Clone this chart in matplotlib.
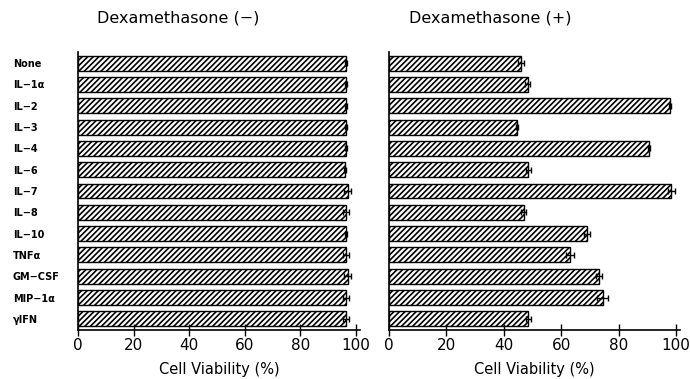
import matplotlib
matplotlib.use("Agg")
import matplotlib.pyplot as plt
import numpy as np

plt.rcParams['hatch.linewidth'] = 1.2

categories = ["None", "IL\u22121\u03b1", "IL\u22122", "IL\u22123", "IL\u22124", "IL\u22126",
              "IL\u22127", "IL\u22128", "IL\u221210", "TNF\u03b1", "GM\u2212CSF",
              "MIP\u22121\u03b1", "\u03b3IFN"]
dex_minus = [96.5, 96.5, 96.5, 96.5, 96.5, 96.0, 97.0, 96.5, 96.5, 96.5, 97.0, 96.5, 96.5]
dex_minus_err = [0.3, 0.3, 0.3, 0.3, 0.3, 0.3, 1.2, 1.0, 0.3, 1.0, 1.2, 1.0, 1.0]
dex_plus = [46.0, 48.3, 97.8, 44.6, 90.5, 48.6, 98.4, 46.9, 68.9, 63.0, 73.2, 74.4, 48.6]
dex_plus_err = [1.0, 1.0, 0.3, 0.3, 0.3, 1.0, 1.2, 1.0, 1.0, 1.5, 1.0, 2.0, 1.0]
xticks = [0, 20, 40, 60, 80, 100]
titles = ["Dexamethasone (\u2212)", "Dexamethasone (+)"]
xlabel = "Cell Viability (%)"

fig = plt.figure(figsize=(6.9, 3.79), dpi=100)
W, H = 690, 379
bottom = 1 - 330 / H
top = 1 - 52 / H
xmax = 101.5
ax1 = fig.add_axes([78 / W, bottom, 278 / W * xmax / 100, top - bottom])
ax2 = fig.add_axes([389 / W, bottom, 287 / W * xmax / 100, top - bottom])

y = np.arange(len(categories))
for ax, vals, errs in [(ax1, dex_minus, dex_minus_err),
                       (ax2, dex_plus, dex_plus_err)]:
    ax.barh(y, vals, height=0.7, color='white', edgecolor='black', hatch='//////',
            linewidth=1.0, xerr=errs, error_kw=dict(ecolor='black', elinewidth=1.0,
                                                     capsize=2, capthick=1.0))
    ax.set_xlim(0, xmax)
    ax.set_ylim(len(categories) - 0.48, -0.52)
    ax.set_xticks(xticks)
    ax.set_xticklabels([str(t) for t in xticks], fontsize=11)
    ax.tick_params(axis='x', direction='inout', length=8, width=1.0, pad=2)
    ax.spines['top'].set_visible(False)
    ax.spines['right'].set_visible(False)
    ax.spines['left'].set_linewidth(1.2)
    ax.spines['bottom'].set_linewidth(1.2)
    ax.set_xlabel(xlabel, fontsize=10.5, labelpad=6)

fig.text(97 / W, 1 - 18 / H, titles[0], fontsize=11.5, ha='left', va='center')
fig.text(409 / W, 1 - 18 / H, titles[1], fontsize=11.5, ha='left', va='center')

ax1.set_yticks(y)
ax1.set_yticklabels(categories, fontsize=7, fontweight='bold', ha='left')
ax1.tick_params(axis='y', length=0, pad=47)
ax2.set_yticks([])

fig.savefig("out.png", dpi=100)
